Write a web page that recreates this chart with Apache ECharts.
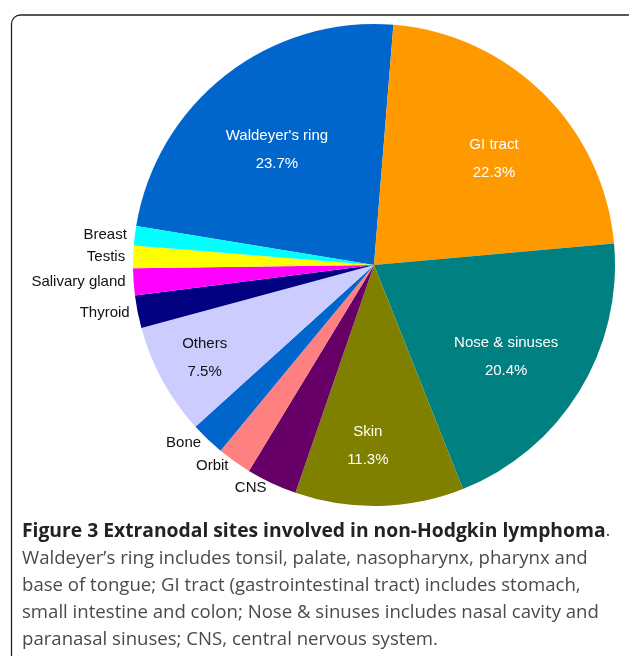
<!DOCTYPE html>
<html><head><meta charset="utf-8">
<script src="https://cdn.jsdelivr.net/npm/echarts@6/dist/echarts.min.js"></script>
<style>html,body{margin:0;padding:0;background:#fff}#c{width:629px;height:656px}</style>
</head><body><div id="c"></div>
<script>
// ---- data ----
const categories = ["Waldeyer's ring","GI tract","Nose & sinuses","Skin","CNS","Orbit","Bone","Others","Thyroid","Salivary gland","Testis","Breast"];
const values = [23.7,22.3,20.4,11.3,3.4,2.3,2.3,7.5,2.2,1.8,1.5,1.3];
const showPercent = [true,true,true,true,false,false,false,true,false,false,false,false];
const captionTitle = "Figure 3 Extranodal sites involved in non-Hodgkin lymphoma";
const captionLines = [
 "Waldeyer’s ring includes tonsil, palate, nasopharynx, pharynx and",
 "base of tongue; GI tract (gastrointestinal tract) includes stomach,",
 "small intestine and colon; Nose & sinuses includes nasal cavity and",
 "paranasal sinuses; CNS, central nervous system."
];

// ---- styles ----
const colors = ["#0066cc","#ff9900","#008080","#808000","#660066","#ff8080","#0066cc","#ccccff","#000080","#ff00ff","#ffff00","#00ffff"];
const labelColors = ["#fff","#fff","#fff","#fff","#111","#111","#111","#111","#111","#111","#111","#111"];
const innerOffsets = [[-21,-18],[33,-18],[27,27],[-9,57],null,null,null,[-61,34],null,null,null,null];

const data = categories.map((n,i)=>({
  name:n, value:values[i],
  itemStyle:{color:colors[i]},
  label: showPercent[i] ? {
    position:'inside', formatter:'{b}\n{c}%', color:labelColors[i],
    lineHeight:28, offset: innerOffsets[i]
  } : {position:'outside', formatter:'{b}', color:labelColors[i]}
}));

const chart = echarts.init(document.getElementById('c'), null, {renderer:'canvas'});
const caption = "{b|" + captionTitle + "}{n|.}\n" + captionLines.map(l=>"{n|"+l+"}").join("\n");
chart.setOption({
  animation:false,
  title:{
    text:caption, left:22, top:517.5, padding:0,
    textStyle:{
      rich:{
        b:{fontFamily:'Open Sans',fontWeight:'bold',fontSize:19.3,color:'#222',lineHeight:27.2},
        n:{fontFamily:'Open Sans',fontWeight:'normal',fontSize:18.6,color:'#4a4a4a',lineHeight:27.2}
      }
    }
  },
  graphic:[{type:'rect',left:9,top:12.5,shape:{width:660,height:700,r:9},
    style:{fill:'none',stroke:'#222',lineWidth:1.3},silent:true}],
  series:[{
    type:'pie', center:[374,265], radius:[0,241],
    startAngle:170.7, clockwise:true, avoidLabelOverlap:false,
    itemStyle:{borderWidth:0},
    label:{fontFamily:'Liberation Sans',fontSize:15,distanceToLabelLine:3},
    labelLine:{show:false,length:5,length2:0},
    emphasis:{disabled:true},
    data:data
  }]
});
</script></body></html>
